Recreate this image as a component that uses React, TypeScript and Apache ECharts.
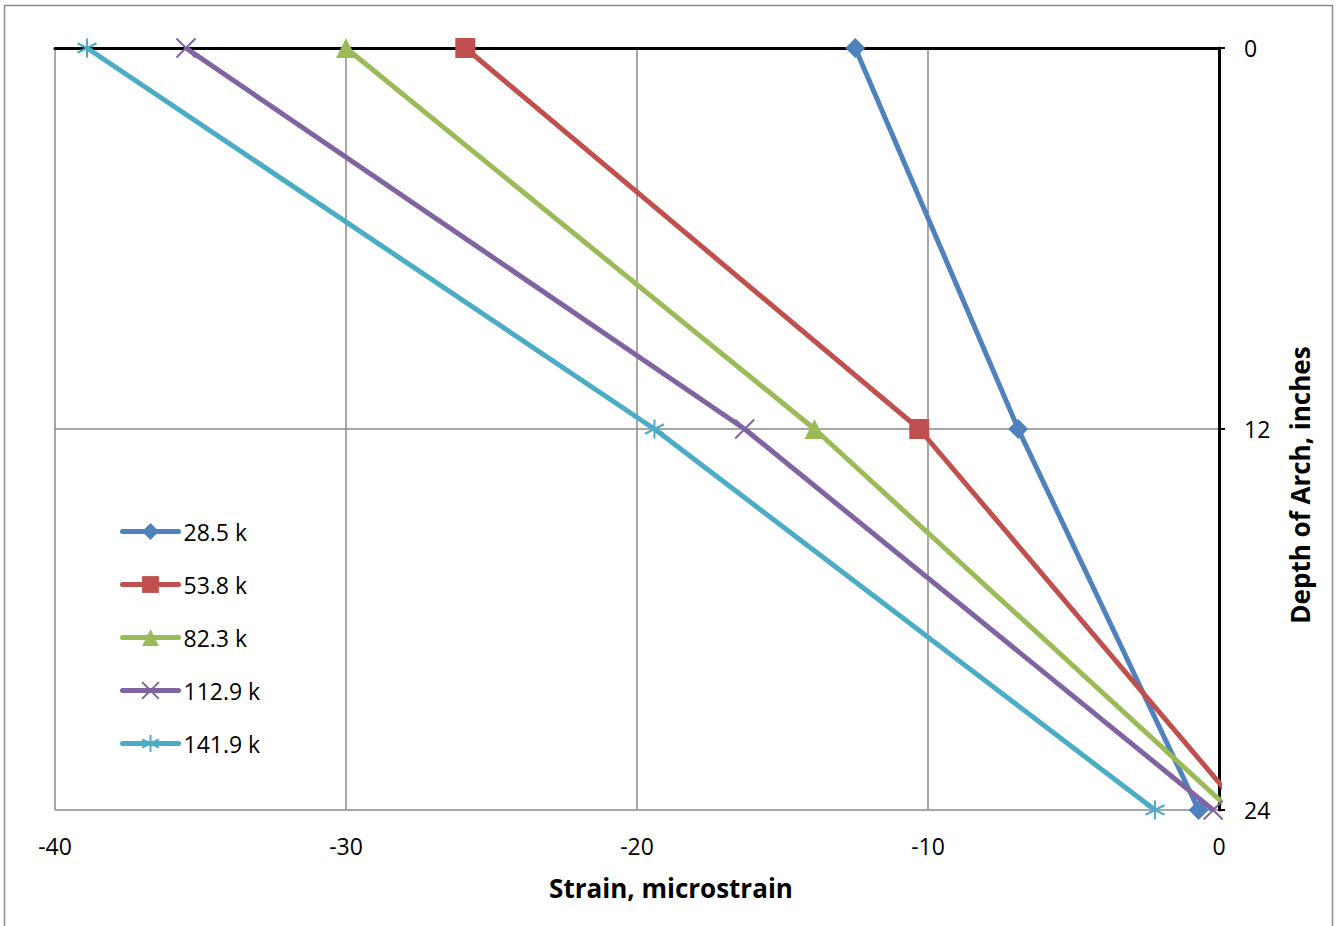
import React, { useEffect, useRef } from "react";
import * as echarts from "echarts";

const seriesNames = ["28.5 k", "53.8 k", "82.3 k", "112.9 k", "141.9 k"];
const depths = [0, 12, 24];
const strain285 = [-12.5, -6.9, -0.7];
const strain538 = [-25.9, -10.3, 0.8];
const strain823 = [-30.0, -13.9, 0.4];
const strain1129 = [-35.5, -16.3, -0.2];
const strain1419 = [-38.9, -19.4, -2.2];
const xTicks = [-40, -30, -20, -10, 0];
const yTicks = [0, 12, 24];

const colors = ["#4F81BD", "#C0504D", "#9BBB59", "#8064A2", "#4BACC6"];
const symbols = [
  "diamond",
  "rect",
  "triangle",
  "path://M0,0L10,10M10,0L0,10",
  "path://M5,0L5,10M0.7,2.5L9.3,7.5M0.7,7.5L9.3,2.5",
];
const symbolSizes = [20, 20, 20, 19, 19];
const FONT = "'Open Sans', 'Liberation Sans', sans-serif";

export default function App() {
  const ref = useRef<HTMLDivElement>(null);
  useEffect(() => {
    if (!ref.current) return;
    const chart = echarts.init(ref.current, undefined, { renderer: "svg" });
    const allStrains = [strain285, strain538, strain823, strain1129, strain1419];
    const series = allStrains.map((arr, i) => {
      const isPath = symbols[i].startsWith("path://");
      return {
        name: seriesNames[i],
        type: "line",
        data: arr.map((v, j) => [v, depths[j]]),
        symbol: symbols[i],
        symbolSize: symbolSizes[i],
        showAllSymbol: true,
        clip: true,
        lineStyle: { color: colors[i], width: 5 },
        itemStyle: isPath
          ? { color: colors[i], borderColor: colors[i], borderWidth: 2 }
          : { color: colors[i], borderWidth: 0 },
        emphasis: { disabled: true },
        z: 3 + i,
      };
    });
    chart.setOption({
      animation: false,
      textStyle: { fontFamily: FONT },
      grid: { left: 55, right: 117, top: 48, bottom: 116, containLabel: false },
      legend: {
        orient: "vertical",
        left: 115,
        top: 515,
        itemWidth: 56,
        itemHeight: 21,
        itemGap: 30,
        lineStyle: { width: 5, cap: "round" },
        textStyle: { fontSize: 23, color: "#000", fontFamily: FONT },
        data: seriesNames,
      },
      xAxis: [
        {
          type: "value",
          min: xTicks[0],
          max: xTicks[xTicks.length - 1],
          interval: 10,
          position: "bottom",
          axisLine: { show: false, onZero: false },
          axisTick: { show: false },
          axisLabel: { fontSize: 23, color: "#000", margin: 24, fontFamily: FONT },
          splitLine: { show: true, lineStyle: { color: "#8a8a8a", width: 1.5 } },
        },
        {
          type: "value",
          min: xTicks[0],
          max: xTicks[xTicks.length - 1],
          interval: 10,
          position: "top",
          axisLine: { show: true, onZero: false, lineStyle: { color: "#000", width: 3 } },
          axisTick: { show: false },
          axisLabel: { show: false },
          splitLine: { show: false },
        },
      ],
      yAxis: {
        type: "value",
        inverse: true,
        min: yTicks[0],
        max: yTicks[yTicks.length - 1],
        interval: 12,
        position: "right",
        axisLine: { show: true, onZero: false, lineStyle: { color: "#000", width: 3 } },
        axisTick: { show: true, length: 6, lineStyle: { color: "#000", width: 2 } },
        axisLabel: { fontSize: 23, color: "#000", margin: 25, fontFamily: FONT },
        splitLine: { show: true, lineStyle: { color: "#8a8a8a", width: 1.5 } },
      },
      graphic: [
        {
          type: "rect",
          shape: { x: 4.5, y: 5.5, width: 1328, height: 940 },
          style: { fill: "none", stroke: "#8c8c8c", lineWidth: 1.5 },
          silent: true,
          z: -1,
        },
        {
          type: "text",
          x: 671,
          y: 888,
          style: {
            text: "Strain, microstrain",
            fontSize: 26,
            fontWeight: "bold",
            fontFamily: FONT,
            fill: "#000",
            textAlign: "center",
            textVerticalAlign: "middle",
          },
        },
        {
          type: "text",
          x: 1300,
          y: 485,
          rotation: Math.PI / 2,
          style: {
            text: "Depth of Arch, inches",
            fontSize: 26,
            fontWeight: "bold",
            fontFamily: FONT,
            fill: "#000",
            textAlign: "center",
            textVerticalAlign: "middle",
          },
        },
      ],
      series,
    });
    return () => chart.dispose();
  }, []);
  return (
    <div
      ref={ref}
      style={{ position: "fixed", left: 0, top: 0, width: 1336, height: 926, background: "#fff" }}
    />
  );
}
